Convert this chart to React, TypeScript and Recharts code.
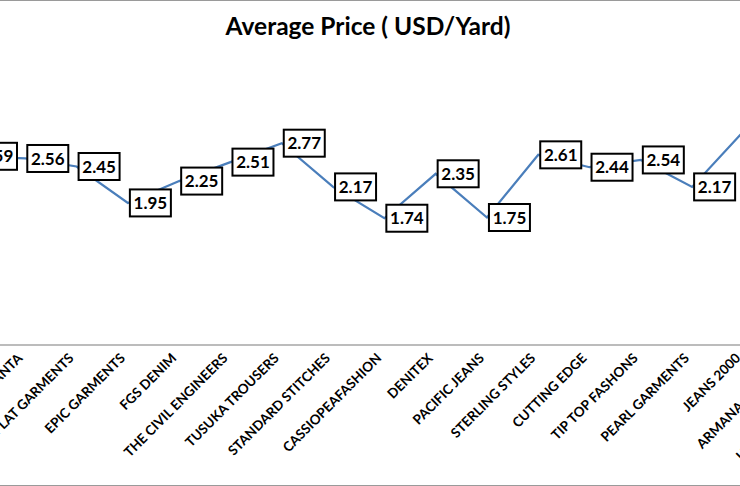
import { LabelList, Line, LineChart, XAxis, YAxis } from "recharts";

const FONT = "Lato, 'Open Sans', sans-serif";
const LINE = "#4a7ebb";

// the source chart is cropped on both sides; first and last entries sit off-screen
const suppliers = [
  "ENVOY TEXTILES",
  "ANANTA",
  "FLAT GARMENTS",
  "EPIC GARMENTS",
  "FGS DENIM",
  "THE CIVIL ENGINEERS",
  "TUSUKA TROUSERS",
  "STANDARD STITCHES",
  "CASSIOPEAFASHION",
  "DENITEX",
  "PACIFIC JEANS",
  "STERLING STYLES",
  "CUTTING EDGE",
  "TIP TOP FASHONS",
  "PEARL GARMENTS",
  "JEANS 2000",
  "ARMANA APPARELS",
  "UNIVERSAL JEANS LTD",
];
const prices = [
  2.59, 2.56, 2.45, 1.95, 2.25, 2.51, 2.77, 2.17, 1.74, 2.35, 1.75, 2.61, 2.44,
  2.54, 2.17, 2.93, 2.6, 2.4,
];
const yDomain = [0, 3.5];

const data = suppliers.map((name, i) => ({ name, price: prices[i] }));

function SupplierTick({ x, y, payload }: any) {
  const ex = x - 2;
  const ey = y + 6;
  return (
    <text
      x={ex}
      y={ey}
      transform={`rotate(-45, ${ex}, ${ey})`}
      textAnchor="end"
      fontFamily={FONT}
      fontWeight={700}
      fontSize={13.5}
      fill="#000"
    >
      {payload.value}
    </text>
  );
}

function PriceBox({ x, y, value }: any) {
  return (
    <g>
      <rect
        x={x + 2}
        y={y - 13.5}
        width={41}
        height={27}
        fill="#fff"
        stroke="#000"
        strokeWidth={2}
      />
      <text
        x={x + 22.5}
        y={y}
        dy="0.36em"
        textAnchor="middle"
        fontFamily={FONT}
        fontWeight={700}
        fontSize={17}
        fill="#000"
      >
        {value}
      </text>
    </g>
  );
}

export default function App() {
  return (
    <div
      style={{
        position: "absolute",
        left: 0,
        top: 0,
        width: 740,
        height: 486,
        overflow: "hidden",
        background: "#fff",
      }}
    >
      <div style={{ position: "absolute", left: 0, right: 0, top: 0, height: 1, background: "#9a9a9a" }} />
      <div style={{ position: "absolute", left: 0, right: 0, top: 485, height: 1, background: "#9a9a9a" }} />
      <div
        style={{
          position: "absolute",
          left: 0,
          width: 736,
          top: 11,
          textAlign: "center",
          fontFamily: FONT,
          fontWeight: 700,
          fontSize: 24.5,
          color: "#000",
        }}
      >
        Average Price ( USD/Yard)
      </div>
      <div style={{ position: "absolute", left: -36, top: 0 }}>
        <LineChart
          width={902}
          height={486}
          data={data}
          margin={{ top: 90, right: 20, bottom: 0, left: 10 }}
        >
          <XAxis
            dataKey="name"
            height={141}
            interval={0}
            tick={<SupplierTick />}
            tickLine={false}
            axisLine={{ stroke: "#a6a6a6", strokeWidth: 1.5 }}
          />
          <YAxis hide domain={yDomain} />
          <Line
            dataKey="price"
            stroke={LINE}
            strokeWidth={2.25}
            dot={false}
            isAnimationActive={false}
          >
            <LabelList dataKey="price" content={<PriceBox />} />
          </Line>
        </LineChart>
      </div>
    </div>
  );
}
